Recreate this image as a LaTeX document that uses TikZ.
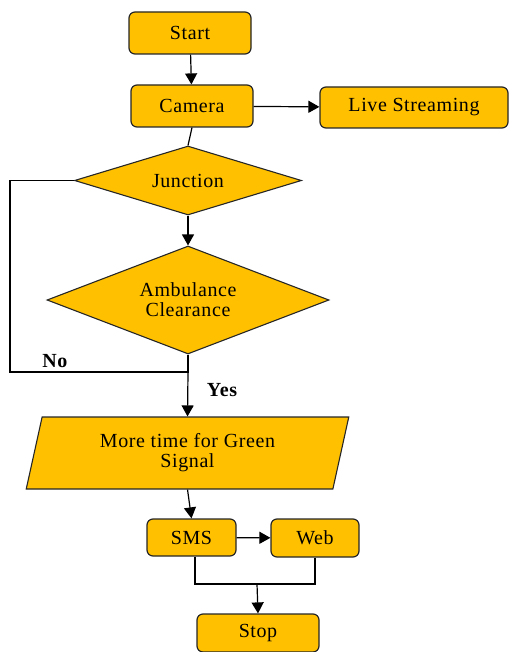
\documentclass[tikz,border=0pt]{standalone}
\usepackage{fontspec}
\setmainfont{Liberation Serif}[LetterSpace=3]
\usetikzlibrary{shapes.geometric,arrows.meta}
\definecolor{amber}{HTML}{FFC000}
\begin{document}
\begin{tikzpicture}[x=1pt,y=-1pt,
  txt/.style={font=\fontsize{20}{20}\selectfont,align=center,text=black},
  fcbox/.style={txt,draw=black!85,fill=amber,line width=1.2pt,rounded corners=6pt,
    inner sep=0pt,minimum width=#1},
  fcdiamond/.style={txt,diamond,draw=black!85,fill=amber,line width=1.1pt,inner sep=0pt},
  fcdata/.style={txt,trapezium,trapezium left angle=76,trapezium right angle=104,
    trapezium stretches=true,draw=black!85,fill=amber,line width=1.1pt,inner sep=0pt},
  link/.style={line width=1.2pt,draw=black},
  arr/.style={link,-{Triangle[width=12pt,length=11pt]}},
  lbl/.style={font=\fontsize{20}{20}\selectfont\bfseries}]
\useasboundingbox (0,0) rectangle (509,652);

% process boxes
\node[fcbox=122,minimum height=42pt] (start) at (190,33) {Start};
\node[fcbox=122,minimum height=42pt] (cam) at (192,106) {Camera};
\node[fcbox=188,minimum height=41pt] (live) at (414,107.5) {Live Streaming};

% decisions
\node[fcdiamond,aspect=3.3,minimum width=227pt,minimum height=69pt] (jn) at (188,180.5) {Junction};
\node[fcdiamond,aspect=2.6,minimum width=282pt,minimum height=108pt] (amb) at (188,300) {Ambulance\\Clearance};

% data (parallelogram)
\node[fcdata,minimum width=323pt,minimum height=72pt] (green) at (187.5,453) {More time for Green\\Signal};

% outputs
\node[fcbox=89,minimum height=37pt] (sms) at (191.5,537.5) {SMS};
\node[fcbox=88,minimum height=38pt] (web) at (315,538) {Web};
\node[fcbox=122,minimum height=38pt] (stop) at (258,633) {Stop};

% connectors
\draw[arr] (start) -- (cam);
\draw[arr] (cam) -- (live);
\draw[link] (cam.south) -- (jn.north);
\draw[arr] (jn.south) -- (amb.north);

\coordinate (split) at (188,372);
\coordinate (loop) at (10,372);
\draw[link] (amb.south) -- (split) -- (loop) |- (jn.west);
\draw[arr] (split) -- (green.north);
\node[lbl] (no) at (55,361) {No};
\node[lbl] (yes) at (222,390) {Yes};

\draw[arr] (green.south) -- (sms.north);
\draw[arr] (sms) -- (web);

\coordinate (merge) at (257,584);
\draw[link] ([xshift=3.5pt]sms.south) |- (merge);
\draw[link] (web.south) |- (merge);
\draw[arr] (merge) -- (stop.north);
\end{tikzpicture}
\end{document}
